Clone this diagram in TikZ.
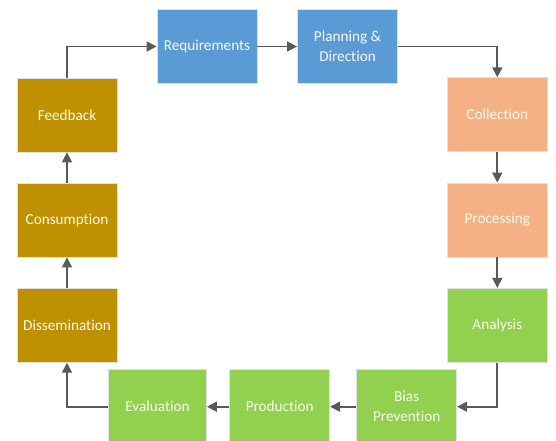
\documentclass[tikz,border=0pt]{standalone}
\usepackage{fontspec}
\setmainfont{Carlito}[Ligatures=NoCommon]
\usepackage{xcolor}
\usepackage{tikz}
\usetikzlibrary{arrows.meta}

\definecolor{boxblue}{RGB}{91,155,213}
\definecolor{boxorange}{RGB}{244,177,131}
\definecolor{boxgold}{RGB}{191,144,0}
\definecolor{boxgreen}{RGB}{146,208,80}
\definecolor{arrowgray}{RGB}{89,89,89}
\definecolor{boxtext}{RGB}{250,250,236}

\begin{document}
\begin{tikzpicture}[x=1pt,y=-1pt,
  stage/.style={shape=rectangle,draw=black!12,line width=0.8pt,minimum width=100pt,
    minimum height=74pt,text=boxtext,align=center,
    font=\fontsize{15.2}{20}\selectfont},
  flow/.style={-{Triangle[length=10pt,width=10pt]},draw=arrowgray,line width=1.7pt}]
\useasboundingbox (0,0) rectangle (556,440);
\clip (0,0) rectangle (556,440);
\node[stage,fill=boxblue] (Req) at (207,46.5) {Requirements};
\node[stage,fill=boxblue] (Plan) at (347.5,46.5) {Planning \&\\Direction};
\node[stage,fill=boxorange] (Coll) at (497.3,114.7) {Collection};
\node[stage,fill=boxorange] (Proc) at (497.3,220) {Processing};
\node[stage,fill=boxgreen] (Anal) at (497.3,325.3) {Analysis};
\node[stage,fill=boxgreen] (Bias) at (406.7,406.7) {Bias\\Prevention};
\node[stage,fill=boxgreen] (Prod) at (279.7,406.7) {Production};
\node[stage,fill=boxgreen,minimum width=98pt] (Eval) at (157.5,406.7) {Evaluation};
\node[stage,fill=boxgold] (Diss) at (67,325.3) {Dissemination};
\node[stage,fill=boxgold] (Cons) at (67,220) {Consumption};
\node[stage,fill=boxgold] (Feed) at (67,115) {Feedback};
\draw[flow] (Feed.north) |- (Req.west);
\draw[flow] (Req) -- (Plan);
\draw[flow] (Plan.east) -| (Coll.north);
\draw[flow] (Coll) -- (Proc);
\draw[flow] (Proc) -- (Anal);
\draw[flow] (Anal.south) |- (Bias.east);
\draw[flow] (Bias) -- (Prod);
\draw[flow] (Prod) -- (Eval);
\draw[flow] (Eval.west) -| (Diss.south);
\draw[flow] (Diss) -- (Cons);
\draw[flow] (Cons) -- (Feed);
\end{tikzpicture}
\end{document}
